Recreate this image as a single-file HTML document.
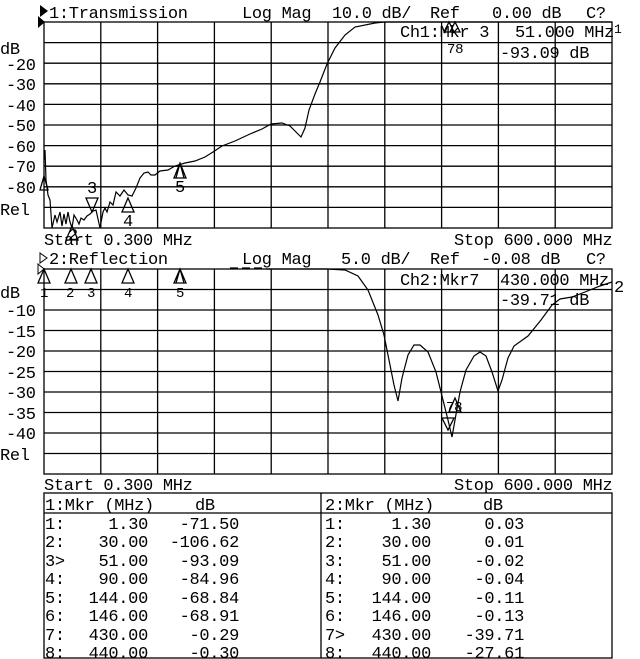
<!DOCTYPE html>
<html><head><meta charset="utf-8"><style>
html,body{margin:0;padding:0;background:#fff}
svg{display:block}
text{font-family:"Liberation Mono","DejaVu Sans Mono",monospace;font-size:17px;fill:#000;letter-spacing:-0.3px}
</style></head><body>
<svg width="640" height="659" viewBox="0 0 640 659" xmlns="http://www.w3.org/2000/svg" xml:space="preserve">
<g stroke="#000" stroke-width="1.3" fill="none">
<!-- top grid -->
<rect x="44" y="22" width="568" height="206"/>
<path d="M100.8 22V228M157.6 22V228M214.4 22V228M271.2 22V228M328 22V228M384.8 22V228M441.6 22V228M498.4 22V228M555.2 22V228
M44 42.6H612M44 63.2H612M44 83.8H612M44 104.4H612M44 125H612M44 145.6H612M44 166.2H612M44 186.8H612M44 207.4H612"/>
<!-- bottom grid -->
<rect x="44" y="269" width="568" height="205"/>
<path d="M100.8 269V474M157.6 269V474M214.4 269V474M271.2 269V474M328 269V474M384.8 269V474M441.6 269V474M498.4 269V474M555.2 269V474
M44 289.5H612M44 310H612M44 330.5H612M44 351H612M44 371.5H612M44 392H612M44 412.5H612M44 433H612M44 453.5H612"/>
<!-- table -->
<rect x="44" y="493" width="568" height="165"/>
<path d="M321 493V658M44 513H612"/>
<!-- top trace -->
<polyline stroke-width="1.2" points="44,160 45,150 46,180 48,195 50,200 52,228 55,215 57,222 60,212 62,226 64,214 66,224 68,212 70,222 72,228 74,215 77,220 79,224 81,218 84,220 87,216 90,214 93,211 96,210 100,228 103,212 105,208 107,212 110,202 113,205 116,192 120,196 124,190 128,195 132,196 136,188 140,178 144,173 148,172 151,175 155,175 160,171 168,170 175,166 185,163 195,161 205,157 213,152 222,146 235,141 250,134 262,129 271,124 282,123 290,126 296,132 301,137 305,128 309,110 315,94 320,82 327,64 335,48 345,35 355,27 375,23 385,22 612,22"/>
<!-- bottom trace -->
<path d="M230 268h8M242 268h8M254 268h8"/>
<polyline stroke-width="1.2" points="266,269 327,269 345,270 358,276 368,290 378,315 384,335 389,360 394,385 398,401 402,378 408,355 414,345 420,345 428,352 436,372 443,400 448,420 452,437 455,420 460,392 466,370 474,356 480,352 486,356 492,372 498,391 502,380 508,358 514,346 528,336 541,320 552,305 560,299 572,297 585,292 600,286 612,282"/>
<!-- top markers -->
<path d="M44 176L40 190H48Z"/>
<path d="M86 198L98 198L92 212Z"/>
<path d="M128 198L122 212H134Z"/>
<path d="M180 163L174 178H186Z M180 163L176 178M180 163L184 178"/>
<path d="M72 226L66 240H78Z"/>
<path d="M449 22L444 32H454ZM455 22L450 32H460Z"/>
<!-- bottom markers -->
<path d="M44 269L38 283H50ZM71 269L65 283H77ZM91 269L85 283H97ZM128 269L122 283H134ZM180 269L174 283H186ZM180 269L176 283M180 269L184 283"/>
<path d="M455 398L449 412H461ZM448 430L442 418H454Z"/>
</g>
<path d="M38 16L45 22L38 28Z" fill="#000"/>
<path d="M40 5L48 11L40 17Z" fill="#000"/>
<path d="M38 264L44 269L38 274Z" fill="none" stroke="#000"/>
<path d="M40 253L47 258L40 263Z" fill="none" stroke="#000"/>
<!-- top texts -->
<text x="49" y="18">1:Transmission</text>
<text x="242" y="18">Log Mag</text>
<text x="332" y="18">10.0 dB/</text>
<text x="430" y="18">Ref</text>
<text x="492" y="18">0.00 dB</text>
<text x="586" y="18">C?</text>
<text x="400" y="37">Ch1:Mkr 3</text>
<text x="515" y="37">51.000 MHz</text>
<text x="614" y="33" style="font-size:13px">1</text>
<text x="447" y="53" style="font-size:14px">78</text>
<text x="500" y="58">-93.09 dB</text>
<text x="0" y="54">dB</text>
<text x="6" y="70">-20</text>
<text x="6" y="90">-30</text>
<text x="6" y="111">-40</text>
<text x="6" y="131">-50</text>
<text x="6" y="152">-60</text>
<text x="6" y="172">-70</text>
<text x="6" y="193">-80</text>
<text x="0" y="215">Rel</text>
<text x="87" y="193">3</text>
<text x="123" y="226">4</text>
<text x="175" y="192">5</text>
<text x="68" y="240">2</text>
<text x="44" y="245">Start 0.300 MHz</text>
<text x="454" y="245">Stop 600.000 MHz</text>
<!-- bottom texts -->
<text x="49" y="264">2:Reflection</text>
<text x="242" y="264">Log Mag</text>
<text x="341" y="264">5.0 dB/</text>
<text x="430" y="264">Ref</text>
<text x="481" y="264">-0.08 dB</text>
<text x="586" y="264">C?</text>
<text x="400" y="285">Ch2:Mkr7</text>
<text x="500" y="285">430.000 MHz</text>
<text x="614" y="292">2</text>
<text x="500" y="305">-39.71 dB</text>
<text x="40" y="297" style="font-size:14px">1</text>
<text x="66" y="297" style="font-size:14px">2</text>
<text x="87" y="297" style="font-size:14px">3</text>
<text x="124" y="297" style="font-size:14px">4</text>
<text x="176" y="297" style="font-size:14px">5</text>
<text x="446" y="411" style="font-size:14px">78</text>
<text x="0" y="298">dB</text>
<text x="6" y="316">-10</text>
<text x="6" y="337">-15</text>
<text x="6" y="357">-20</text>
<text x="6" y="378">-25</text>
<text x="6" y="398">-30</text>
<text x="6" y="419">-35</text>
<text x="6" y="439">-40</text>
<text x="0" y="460">Rel</text>
<text x="44" y="490">Start 0.300 MHz</text>
<text x="454" y="490">Stop 600.000 MHz</text>
<!-- table text -->
<text x="45" y="510">1:Mkr (MHz)</text>
<text x="195" y="510">dB</text>
<text x="325" y="510">2:Mkr (MHz)</text>
<text x="483" y="510">dB</text>
<g>
<text x="45" y="529">1:</text><text x="148" y="529" text-anchor="end">1.30</text><text x="239" y="529" text-anchor="end">-71.50</text>
<text x="45" y="547">2:</text><text x="148" y="547" text-anchor="end">30.00</text><text x="239" y="547" text-anchor="end">-106.62</text>
<text x="45" y="566">3&gt;</text><text x="148" y="566" text-anchor="end">51.00</text><text x="239" y="566" text-anchor="end">-93.09</text>
<text x="45" y="584">4:</text><text x="148" y="584" text-anchor="end">90.00</text><text x="239" y="584" text-anchor="end">-84.96</text>
<text x="45" y="603">5:</text><text x="148" y="603" text-anchor="end">144.00</text><text x="239" y="603" text-anchor="end">-68.84</text>
<text x="45" y="621">6:</text><text x="148" y="621" text-anchor="end">146.00</text><text x="239" y="621" text-anchor="end">-68.91</text>
<text x="45" y="640">7:</text><text x="148" y="640" text-anchor="end">430.00</text><text x="239" y="640" text-anchor="end">-0.29</text>
<text x="45" y="658">8:</text><text x="148" y="658" text-anchor="end">440.00</text><text x="239" y="658" text-anchor="end">-0.30</text>
<text x="325" y="529">1:</text><text x="431" y="529" text-anchor="end">1.30</text><text x="524" y="529" text-anchor="end">0.03</text>
<text x="325" y="547">2:</text><text x="431" y="547" text-anchor="end">30.00</text><text x="524" y="547" text-anchor="end">0.01</text>
<text x="325" y="566">3:</text><text x="431" y="566" text-anchor="end">51.00</text><text x="524" y="566" text-anchor="end">-0.02</text>
<text x="325" y="584">4:</text><text x="431" y="584" text-anchor="end">90.00</text><text x="524" y="584" text-anchor="end">-0.04</text>
<text x="325" y="603">5:</text><text x="431" y="603" text-anchor="end">144.00</text><text x="524" y="603" text-anchor="end">-0.11</text>
<text x="325" y="621">6:</text><text x="431" y="621" text-anchor="end">146.00</text><text x="524" y="621" text-anchor="end">-0.13</text>
<text x="325" y="640">7&gt;</text><text x="431" y="640" text-anchor="end">430.00</text><text x="524" y="640" text-anchor="end">-39.71</text>
<text x="325" y="658">8:</text><text x="431" y="658" text-anchor="end">440.00</text><text x="524" y="658" text-anchor="end">-27.61</text>
</g>
</svg>
</body></html>
